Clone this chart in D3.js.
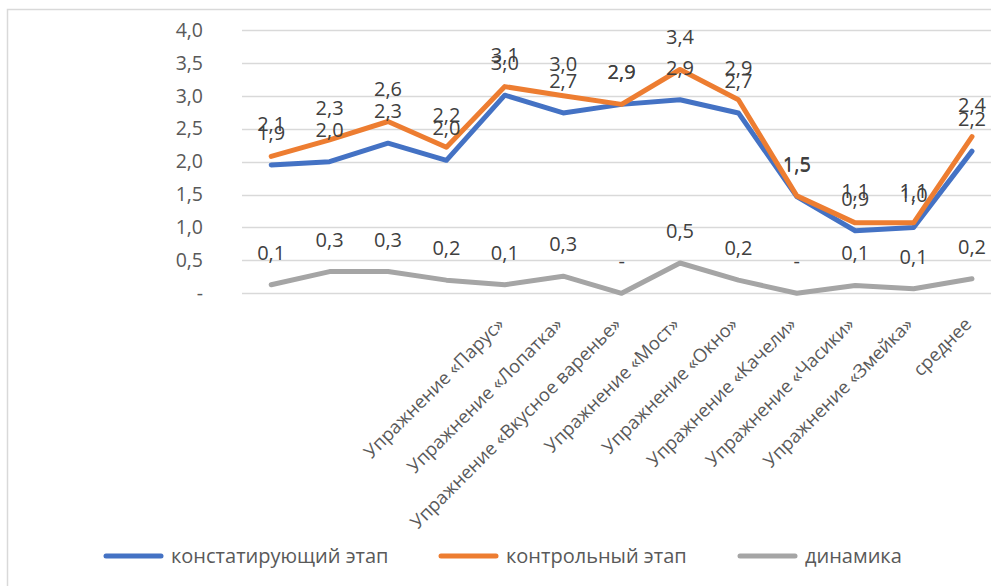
<!DOCTYPE html>
<html><head><meta charset="utf-8">
<script src="https://cdn.jsdelivr.net/npm/d3@7"></script>
<style>
body{margin:0;background:#fff;}
svg{display:block;font-family:"Open Sans",sans-serif;}
</style></head>
<body><svg id="c" width="991" height="586"></svg>
<script>
const categories = ["", "", "", "",
  "Упражнение «Парус»", "Упражнение «Лопатка»", "Упражнение «Вкусное варенье»",
  "Упражнение «Мост»", "Упражнение «Окно»", "Упражнение «Качели»",
  "Упражнение «Часики»", "Упражнение «Змейка»", "среднее"];
const seriesNames = ["констатирующий этап", "контрольный этап", "динамика"];
const constat = [1.95, 2.00, 2.28, 2.02, 3.01, 2.74, 2.87, 2.94, 2.74, 1.47, 0.95, 1.00, 2.16];
const control = [2.08, 2.33, 2.61, 2.22, 3.14, 3.00, 2.87, 3.40, 2.94, 1.48, 1.07, 1.07, 2.38];
const dynamic = [0.13, 0.33, 0.33, 0.20, 0.13, 0.26, 0.00, 0.46, 0.20, 0.00, 0.12, 0.07, 0.22];
const yTicks = [0, 0.5, 1.0, 1.5, 2.0, 2.5, 3.0, 3.5, 4.0];
const colors = ["#4472C4", "#ED7D31", "#A5A5A5"];

const svg = d3.select("#c");
const fmt = v => Math.abs(v) < 0.05 ? "-" : d3.format(".1f")(v).replace(".", ",");

// chart frame
svg.append("rect").attr("x", 7.5).attr("y", 9.5).attr("width", 1100).attr("height", 700)
  .attr("fill", "none").attr("stroke", "#d9d9d9").attr("stroke-width", 1.5);

const x = d3.scaleBand().domain(d3.range(categories.length)).range([242, 242 + 13 * 58.4]);
const cx = i => x(i) + x.bandwidth() / 2;
const y = d3.scaleLinear().domain([0, 4]).range([293.3, 30]);

// gridlines
svg.append("g").selectAll("line").data(yTicks).join("line")
  .attr("x1", 242).attr("x2", 1100)
  .attr("y1", d => Math.round(y(d)) + 0.5).attr("y2", d => Math.round(y(d)) + 0.5)
  .attr("stroke", "#d9d9d9").attr("stroke-width", 1.3);

// y axis
const yAxis = svg.append("g").attr("transform", "translate(203,0)")
  .call(d3.axisLeft(y).tickValues(yTicks).tickFormat(fmt).tickSize(0).tickPadding(0));
yAxis.select(".domain").remove();
yAxis.selectAll("text").attr("fill", "#595959").attr("font-size", 19.5).attr("font-family", "Open Sans");

// x axis labels
const xAxis = svg.append("g").attr("transform", "translate(0,294)")
  .call(d3.axisBottom(x).tickFormat(i => categories[i]).tickSize(0));
xAxis.select(".domain").remove();
xAxis.selectAll("text")
  .attr("fill", "#595959").attr("font-size", 18.4).attr("font-family", "Open Sans")
  .attr("text-anchor", "end")
  .attr("transform", "translate(-4,27) rotate(-45)")
  .attr("dy", "0.35em").attr("y", 0);

// lines
const series = [constat, control, dynamic];
const line = d3.line().x((d, i) => cx(i)).y(d => y(d));
[2, 0, 1].forEach(k => {
  svg.append("path").datum(series[k]).attr("d", line)
    .attr("fill", "none").attr("stroke", colors[k]).attr("stroke-width", 5)
    .attr("stroke-linejoin", "round").attr("stroke-linecap", "round");
});

// data labels
series.forEach((s, k) => {
  svg.append("g").selectAll("text").data(s).join("text")
    .attr("x", (d, i) => cx(i)).attr("y", d => y(d) - 32)
    .attr("dy", "0.35em").attr("text-anchor", "middle")
    .attr("font-size", 20).attr("fill", "#404040")
    .text(fmt);
});

// legend
const lg = svg.append("g");
const legX = [106, 441, 740];
seriesNames.forEach((n, k) => {
  lg.append("line").attr("x1", legX[k]).attr("x2", legX[k] + 55).attr("y1", 556).attr("y2", 556)
    .attr("stroke", colors[k]).attr("stroke-width", 5).attr("stroke-linecap", "round");
  lg.append("text").attr("x", legX[k] + 65).attr("y", 556).attr("dy", "0.35em")
    .attr("font-size", 20).attr("fill", "#595959").text(n);
});
</script></body></html>
